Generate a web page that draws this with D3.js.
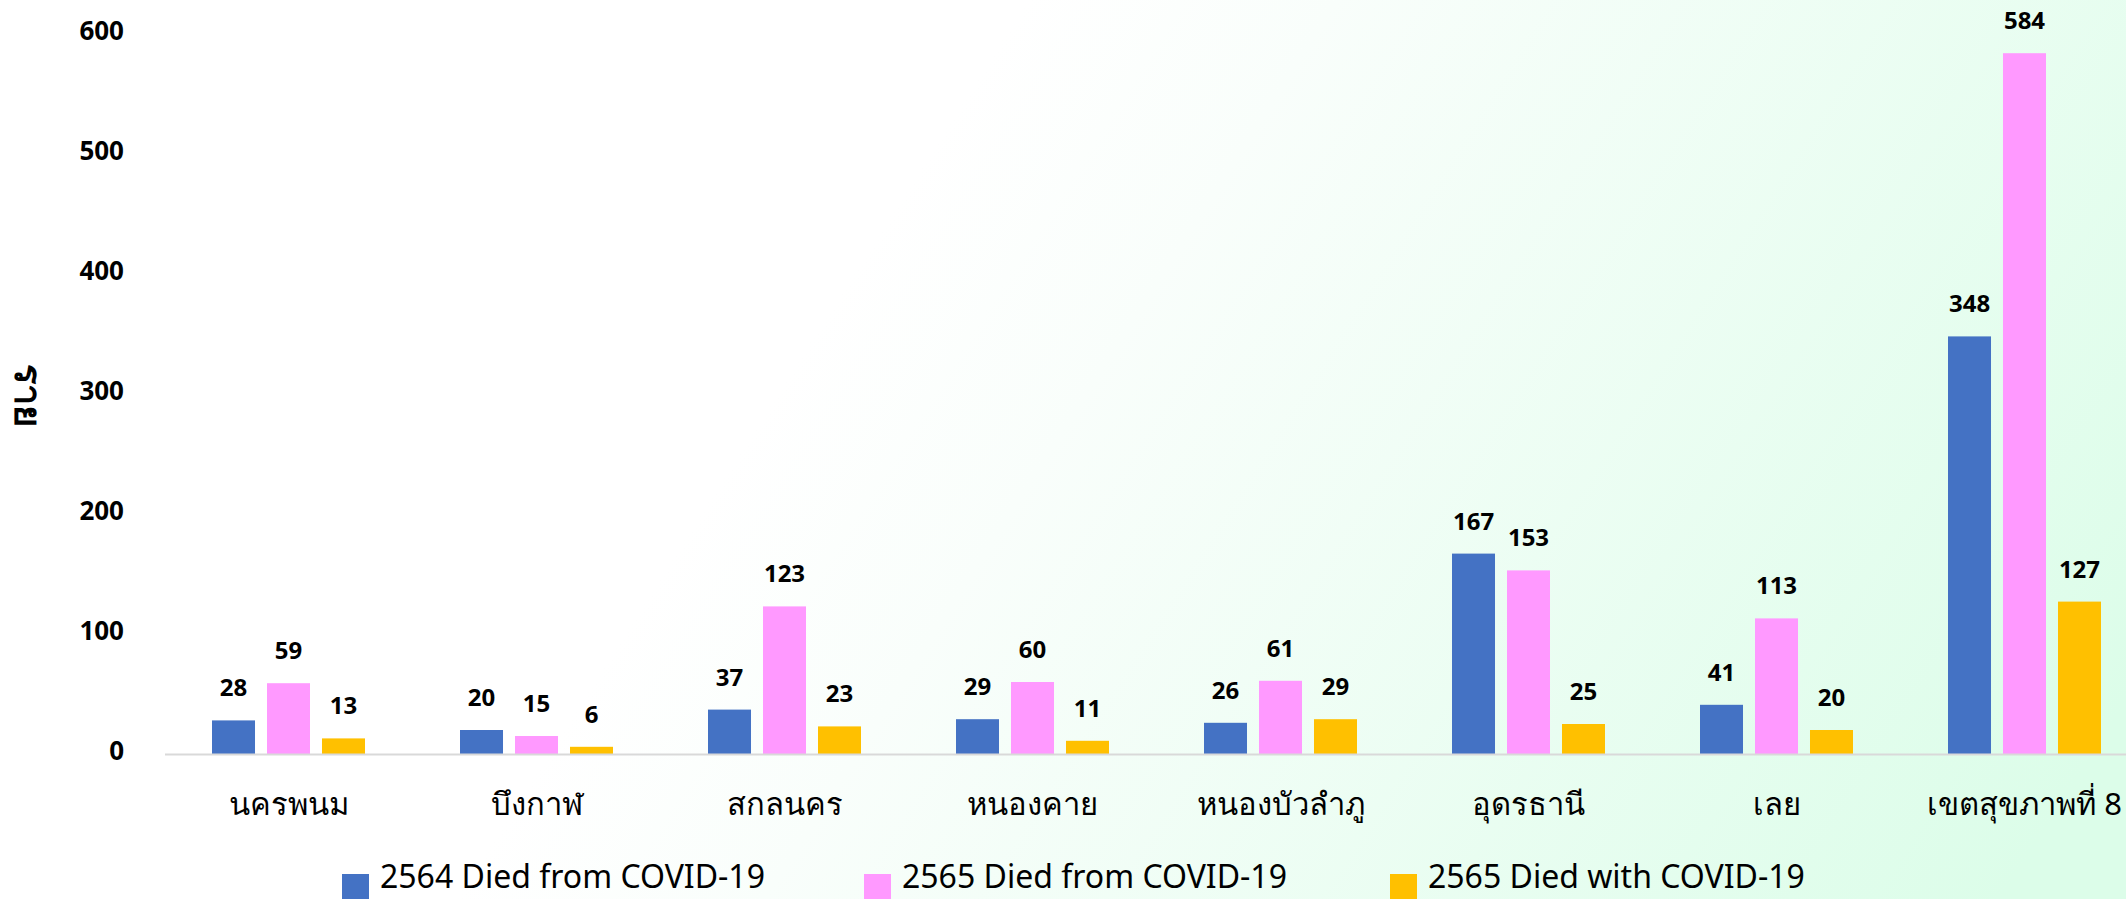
<!DOCTYPE html>
<html>
<head>
<meta charset="utf-8">
<script src="https://cdn.jsdelivr.net/npm/d3@7"></script>
<style>
  html, body { margin: 0; padding: 0; overflow: hidden; }
  body { width: 2126px; height: 899px; }
  text { font-family: "Noto Sans", "Open Sans", sans-serif; fill: #000; }
</style>
</head>
<body>
<div id="chart"></div>
<script>
// data
var provinces = ["นครพนม", "บึงกาฬ", "สกลนคร", "หนองคาย", "หนองบัวลำภู", "อุดรธานี", "เลย", "เขตสุขภาพที่ 8"];
var seriesNames = ["2564 Died from COVID-19", "2565 Died from COVID-19", "2565 Died with COVID-19"];
var seriesColors = ["#4472C4", "#FF99FF", "#FFC000"];
var died2564 = [28, 20, 37, 29, 26, 167, 41, 348];
var died2565 = [59, 15, 123, 60, 61, 153, 113, 584];
var with2565 = [13, 6, 23, 11, 29, 25, 20, 127];
var yTicks = [0, 100, 200, 300, 400, 500, 600];
var yTitle = "ราย";

var w = 2126,
    h = 899;

var svg = d3.select("#chart").append("svg")
    .attr("width", w)
    .attr("height", h);

// background gradient, white on the left to mint on the right
var defs = svg.append("defs");
var grad = defs.append("linearGradient")
    .attr("id", "bg")
    .attr("gradientUnits", "userSpaceOnUse")
    .attr("x1", 900).attr("y1", 200)
    .attr("x2", 2000).attr("y2", 900);
grad.append("stop").attr("offset", "0").attr("stop-color", "#ffffff");
grad.append("stop").attr("offset", "0.2").attr("stop-color", "#f9fefb");
grad.append("stop").attr("offset", "1").attr("stop-color", "#dcfde9");
svg.append("rect")
    .attr("width", w)
    .attr("height", h)
    .attr("fill", "url(#bg)");

var values = [died2564, died2565, with2565];
var rows = provinces.map(function(p, i) {
    return {
        name: p,
        vals: values.map(function(s, k) { return { key: k, value: s[i] }; })
    };
});

var x0 = d3.scaleBand()
    .domain(provinces)
    .range([164.5, 2148.5])
    .paddingInner(0)
    .paddingOuter(0);

var x1 = d3.scaleBand()
    .domain([0, 1, 2])
    .range([-76.5, 76.5])
    .paddingInner(0.218)
    .paddingOuter(0);

var y = d3.scaleLinear()
    .domain([0, 600])
    .range([754, 34]);

// y axis labels
var yAxis = d3.axisLeft(y)
    .tickValues(yTicks)
    .tickSize(0)
    .tickPadding(0);
var yg = svg.append("g")
    .attr("transform", "translate(124,0)")
    .call(yAxis);
yg.select(".domain").remove();
yg.selectAll("text")
    .attr("dy", "0.2em")
    .style("font-size", "26px")
    .style("font-weight", "bold")
    .style("font-family", "'Noto Sans', sans-serif")
    .attr("fill", "#000");

// y title
svg.append("text")
    .attr("transform", "translate(30,395) rotate(90)")
    .attr("text-anchor", "middle")
    .attr("dominant-baseline", "central")
    .style("font-size", "38px")
    .style("font-weight", "bold")
    .text(yTitle);

// bars
var groups = svg.append("g")
    .selectAll("g")
    .data(rows)
    .enter().append("g")
    .attr("transform", function(d) {
        return "translate(" + (x0(d.name) + x0.bandwidth() / 2) + ",0)";
    });

groups.selectAll("rect")
    .data(function(d) { return d.vals; })
    .enter().append("rect")
    .attr("x", function(d) { return x1(d.key); })
    .attr("y", function(d) { return y(d.value); })
    .attr("width", x1.bandwidth())
    .attr("height", function(d) { return y(0) - y(d.value); })
    .attr("fill", function(d) { return seriesColors[d.key]; });

groups.selectAll("text.val")
    .data(function(d) { return d.vals; })
    .enter().append("text")
    .attr("class", "val")
    .attr("x", function(d) { return x1(d.key) + x1.bandwidth() / 2; })
    .attr("y", function(d) { return y(d.value) - 24; })
    .attr("text-anchor", "middle")
    .style("font-size", "24px")
    .style("font-weight", "bold")
    .text(function(d) { return d.value; });

// x axis
var xAxis = d3.axisBottom(x0)
    .tickSize(0)
    .tickPadding(0);
var xg = svg.append("g")
    .attr("transform", "translate(0," + y(0) + ")")
    .call(xAxis);
xg.select(".domain")
    .attr("stroke", "#d9d9d9")
    .attr("stroke-width", 2);
xg.selectAll("text")
    .attr("y", 50)
    .attr("dy", "0.35em")
    .style("font-size", "31px")
    .style("font-family", "'Noto Sans', sans-serif")
    .attr("fill", "#000");

// legend
var legendX = [342, 864, 1390];
var legend = svg.append("g")
    .selectAll("g")
    .data(seriesNames)
    .enter().append("g")
    .attr("transform", function(d, i) { return "translate(" + legendX[i] + ",874)"; });
legend.append("rect")
    .attr("width", 27)
    .attr("height", 27)
    .attr("fill", function(d, i) { return seriesColors[i]; });
legend.append("text")
    .attr("x", 38)
    .attr("y", 14)
    .style("font-size", "32px")
    .style("font-family", "'Liberation Sans Narrow', 'Noto Sans', sans-serif")
    .text(function(d) { return d; });
</script>
</body>
</html>
